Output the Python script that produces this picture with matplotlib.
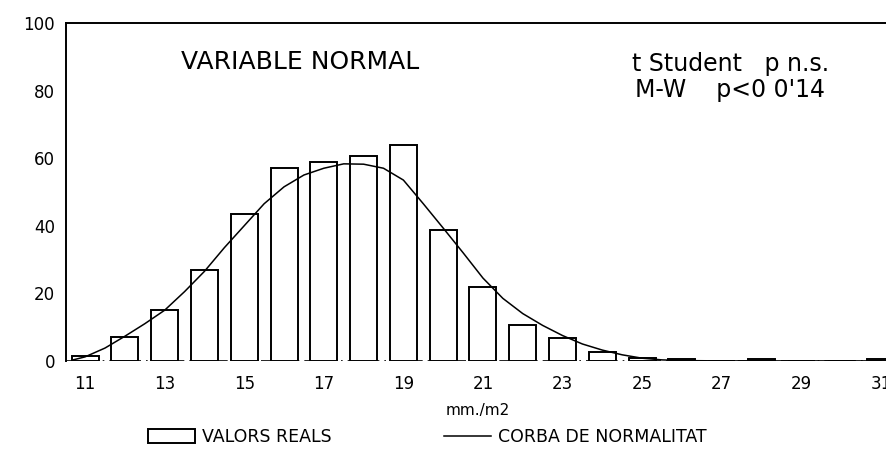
import matplotlib
matplotlib.use("Agg")
import matplotlib.pyplot as plt
from matplotlib.patches import Patch
from matplotlib.lines import Line2D

# histogram classes (mm/m2) and observed counts
classes = [11, 12, 13, 14, 15, 16, 17, 18, 19, 20, 21,
           22, 23, 24, 25, 26, 27, 28, 29, 30, 31]
counts = [1.5, 7, 15, 27, 43.5, 57, 58.7, 60.7, 64, 38.8, 22,
          10.7, 6.8, 2.7, 1, 0.5, 0, 0.5, 0, 0, 0.5]

# normal curve
curve_x = [10.7, 11.0, 11.5, 12.0, 12.5, 13.0, 13.5, 14.0, 14.5, 15.0,
           15.5, 16.0, 16.5, 17.0, 17.5, 18.0, 18.5, 19.0, 19.5, 20.0,
           20.5, 21.0, 21.5, 22.0, 22.5, 23.0, 23.5, 24.0, 24.5, 25.0,
           25.5, 26.0, 27.0, 28.0, 29.0, 30.0, 31.0]
curve_y = [0.3, 1.2, 3.8, 7.3, 11, 15, 20.5, 26.5, 33.5, 40,
           46.5, 51.5, 55, 57, 58.3, 58.2, 57, 53.5, 46.5, 39.3,
           32, 24.5, 18.5, 14, 10.5, 7.5, 5, 3.2, 1.8, 0.8,
           0.3, 0.1, 0, 0, 0, 0, 0]

xticks = [11, 13, 15, 17, 19, 21, 23, 25, 27, 29, 31]
yticks = [0, 20, 40, 60, 80, 100]

fig = plt.figure(figsize=(8.86, 4.58), dpi=100)
ax = fig.add_axes([0.0745, 0.212, 0.93, 0.738])

ax.bar(classes, counts, width=0.68, facecolor="white", edgecolor="black", linewidth=1.4, zorder=2)
ax.plot(curve_x, curve_y, color="black", linewidth=1.1, zorder=3)
ax.axhline(0, color="black", linewidth=1.2, linestyle=(0, (6, 3, 1, 3)), zorder=1)

ax.set_xlim(10.52, 31.23)
ax.set_ylim(0, 100)
ax.set_xticks(xticks)
ax.set_yticks(yticks)
ax.tick_params(axis="both", length=0, labelsize=12)
ax.tick_params(axis="x", pad=10)
ax.tick_params(axis="y", pad=8)
for side in ["top", "left"]:
    ax.spines[side].set_linewidth(1.4)
ax.spines["right"].set_visible(False)
ax.spines["bottom"].set_visible(False)

ax.set_xlabel("mm./m2", fontsize=11, labelpad=7)

ax.text(0.284, 0.885, "VARIABLE NORMAL", transform=ax.transAxes, ha="center", va="center", fontsize=18)
ax.text(0.806, 0.879, "t Student   p n.s.", transform=ax.transAxes, ha="center", va="center", fontsize=17)
ax.text(0.806, 0.802, "M-W    p<0 0'14", transform=ax.transAxes, ha="center", va="center", fontsize=17)

handles = [Patch(facecolor="white", edgecolor="black", linewidth=1.4),
           Line2D([0], [0], color="black", linewidth=1.1)]
fig.legend(handles, ["VALORS REALS", "CORBA DE NORMALITAT"], loc="center",
           bbox_to_anchor=(0.482, 0.045), ncol=2, frameon=False, fontsize=12.5,
           handlelength=2.7, handleheight=0.85, handletextpad=0.4, columnspacing=6.5)

fig.savefig("out.png", dpi=100)
